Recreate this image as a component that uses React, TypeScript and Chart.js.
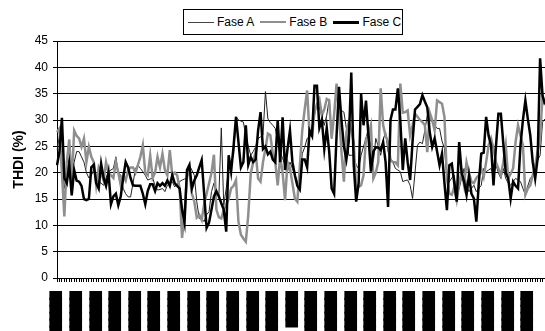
import React, { useEffect, useRef } from "react";
import { Chart, registerables } from "chart.js";

Chart.register(...registerables);

const faseA = [
  24.3, 27, 22, 17, 20, 23, 19, 22, 24, 24, 23, 22, 20, 19, 19.5, 20.5, 19, 18.3, 18, 17.6,
  19, 20.2, 20.5, 20.8, 23, 20, 19.5, 17, 16, 15.4, 15.4, 18, 20.8, 21.4, 20.8, 20.2, 19.5, 18.6, 18.8, 19,
  17.5, 16.7, 16.8, 17, 16.4, 17.6, 18, 18.3, 17.3, 17.8, 18.3, 18.6, 18.8, 19, 21.4, 20.5, 19.5, 14.5, 11.3, 11.3,
  10.7, 12, 12.6, 16.4, 18, 16, 15.5, 28.5, 13.8, 17, 20.8, 22, 23.3, 30.6, 30, 29.8, 29.6, 27.1, 25, 23.3,
  24, 24.9, 26.5, 26.8, 27.1, 35.4, 30.2, 29.5, 29, 28.4, 26, 23.9, 22.7, 21.5, 20.2, 22, 20.8, 19.5, 18.3, 17.6,
  23.6, 24.8, 26.5, 26.8, 28.8, 30.9, 33.1, 32.4, 30.7, 29, 30.9, 34, 26.5, 31, 35.3, 32.1, 31.8, 31.5, 28.4, 23.3,
  23.3, 23.3, 21.4, 20.8, 23.3, 25, 26.5, 28.4, 25, 22, 26.5, 25, 23.3, 26.2, 27.7, 24, 22.7, 22, 20.8, 20.5,
  20.2, 18.3, 18.5, 18.6, 17.6, 15.1, 20, 25.2, 25.8, 25.5, 28, 30.9, 30.2, 29.6, 29, 28.4, 28.4, 26, 24.6, 18.9,
  18.3, 19, 19.5, 15.8, 17, 19, 20.8, 17.6, 16.4, 17, 17.6, 16.4, 17, 17.6, 20.8, 20.2, 20.5, 20.8, 19.5, 21.4,
  20, 18.9, 20.8, 18.9, 18, 17.6, 18.3, 18.9, 18.6, 18.3, 17, 15.8, 17.5, 18.9, 19.5, 21.4, 22.4, 23.3, 29.6, 30.2,
];

const faseB = [
  27.7, 28.4, 20, 11.7, 22, 26.3, 18, 28, 27, 26.5, 24.9, 26.5, 22, 24.9, 23, 22, 17.6, 21, 20, 18.5,
  22, 20, 19.5, 19, 22, 20, 17.6, 19.5, 18.5, 20.5, 21, 21, 20, 21.5, 23, 25.2, 20, 19.5, 23.3, 19,
  20, 23, 21, 23.6, 20.5, 19.5, 24.3, 19.5, 20, 19.5, 17, 7.6, 12, 19.5, 20, 16, 14.5, 11.5, 12, 11,
  14, 16, 18, 20, 23.4, 13, 11.5, 11.3, 13, 13.9, 15, 17, 17.5, 18.6, 10.7, 8.2, 7.5, 6.9, 12, 19.8,
  22, 24, 18.9, 18.3, 22, 24.6, 27.4, 27.1, 23.6, 22, 17.6, 23, 20, 14.8, 22, 20.8, 18, 15.1, 14.5, 21.1,
  28, 32, 35.6, 27.1, 27, 31.5, 33, 34, 30.9, 32, 34, 33.7, 26.5, 31, 36.9, 30.9, 24, 18.3, 27.7, 29.6,
  28, 25.8, 17, 17.3, 17.6, 19.5, 26.5, 27.1, 29, 18.9, 20, 22, 36, 29, 27, 25.8, 22.4, 22, 22, 21.4,
  36.9, 31.4, 31.5, 31.8, 27.1, 29, 31.2, 30.6, 30, 29.6, 29, 23.9, 31.4, 30, 28, 33.7, 33.4, 33.1, 30.6, 18.9,
  16, 15.8, 17.3, 14.8, 18, 20.2, 17.6, 22, 20, 18.3, 18, 19, 19.5, 20.8, 19.2, 22, 25.2, 26.5, 24.6, 22,
  20.8, 19.5, 22, 25.2, 18.9, 19.8, 20.8, 25.8, 29, 27, 25.2, 15.8, 17, 17.6, 19.5, 21.4, 24, 26.5, 34.7, 32.8,
];

const faseC = [
  21.4, 24, 30.4, 19, 18, 21.5, 15.7, 20.5, 18.5, 18.3, 17.5, 15, 14.8, 15, 21, 21.5, 18, 17, 21.7, 19,
  17.5, 20, 14, 15.5, 16, 13.8, 15.5, 19, 22, 21, 19, 17.6, 17.5, 17.5, 17.5, 16, 14, 16.5, 17.8, 17.8,
  16.5, 18, 17.5, 18, 17.5, 18.5, 17.5, 19.5, 18, 17.5, 17, 13, 10.5, 20.5, 21.5, 17, 18.5, 19.5, 21, 22.4,
  16, 9.5, 10.5, 13, 15.5, 16.5, 15.5, 14.2, 13, 8.8, 23.3, 20.2, 25, 30.6, 25.8, 21, 22, 29, 21.5, 23,
  22, 22.5, 28, 31.5, 24.5, 25, 23.5, 24, 22.5, 22, 30, 22, 30.5, 20.5, 24.5, 28, 22, 19.5, 17.5, 16.8,
  22.5, 22.5, 21, 28, 27, 36.5, 36.5, 28.5, 30, 24.5, 28.5, 24, 17, 16, 27, 36.3, 30, 25, 22.5, 26,
  39, 21.5, 14.5, 18, 35, 29, 33.7, 27, 20.2, 24, 24.8, 24.8, 24.3, 25.8, 22, 13.5, 30, 32, 32, 36,
  30, 20.5, 26.5, 22, 18.6, 26, 32, 32.5, 33, 34.7, 33.5, 32.4, 27.7, 24.9, 26.5, 24, 21.4, 23.6, 18, 12.9,
  21.4, 21.7, 18, 14.5, 25.8, 20, 18.3, 15.8, 19.5, 16, 15.1, 10.7, 18, 23.6, 23.8, 30.6, 27, 25.2, 17.6, 25,
  31.2, 31.2, 25.5, 20, 18.9, 15.1, 18.3, 17.5, 17, 25.2, 30, 33.7, 30.2, 27.1, 22, 18.9, 22.7, 41.7, 34.6, 33,
];

// Category tick labels (the original labels print as solid black blocks)
const shownLabels = [
  "██████", "██████", "██████", "██████", "██████", "██████", "██████", "██████", "██████",
  "██████", "██████", "██████", "█████", "██████", "██████", "██████", "██████", "██████",
  "██████", "██████", "██████", "██████", "██████", "██████", "██████",
];
const labelStep = 8;
const categories: string[] = faseA.map((_, i) =>
  i % labelStep === 0 ? shownLabels[i / labelStep] ?? "" : ""
);

const yTicks = { min: 0, max: 45, step: 5 };
const seriesNames = ["Fase A", "Fase B", "Fase C"];

export default function App() {
  const ref = useRef<HTMLCanvasElement | null>(null);

  useEffect(() => {
    if (!ref.current) return;
    const chart = new Chart(ref.current, {
      type: "line",
      data: {
        labels: categories,
        datasets: [
          { label: seriesNames[0], data: faseA, borderColor: "#222222", borderWidth: 1, pointRadius: 0, tension: 0, order: 3 },
          { label: seriesNames[1], data: faseB, borderColor: "#8f8f8f", borderWidth: 2.5, pointRadius: 0, tension: 0, order: 2 },
          { label: seriesNames[2], data: faseC, borderColor: "#000000", borderWidth: 2.5, pointRadius: 0, tension: 0, order: 1 },
        ],
      },
      options: {
        animation: false,
        responsive: false,
        devicePixelRatio: 1,
        layout: { padding: { top: 41, left: 0, right: 0, bottom: 0 } },
        plugins: { legend: { display: false }, tooltip: { enabled: false } },
        scales: {
          x: {
            type: "category",
            offset: false,
            grid: { display: true, drawOnChartArea: false, drawTicks: true, tickLength: 4, color: "#000" },
            border: { display: true, color: "#000", width: 1 },
            ticks: {
              autoSkip: false,
              maxRotation: 90,
              minRotation: 90,
              padding: 10,
              color: "#000",
              textStrokeColor: "#000",
              textStrokeWidth: 2,
              font: { family: "DejaVu Sans", size: 9 },
            },
            afterFit: (scale: any) => {
              scale.height = 53;
              scale.paddingLeft = 0;
              scale.paddingRight = 0;
            },
          },
          y: {
            min: yTicks.min,
            max: yTicks.max,
            grid: { color: "#000", lineWidth: 1, tickLength: 4, drawTicks: true },
            border: { display: true, color: "#000", width: 1 },
            ticks: {
              stepSize: yTicks.step,
              padding: 5,
              color: "#000",
              font: { family: "Liberation Sans", size: 12 },
            },
            title: {
              display: true,
              text: "THDI (%)",
              color: "#000",
              padding: { top: 11, bottom: 0 },
              font: { family: "Liberation Sans", size: 14, weight: "bold" },
            },
            afterFit: (scale: any) => {
              scale.width = 57;
            },
          },
        },
      },
    });
    return () => chart.destroy();
  }, []);

  const item = (name: string, w: number, color: string) => (
    <span style={{ display: "flex", alignItems: "center" }}>
      <span style={{ display: "inline-block", width: 26, height: 0, borderTop: `${w}px solid ${color}`, marginRight: 3 }} />
      <span style={{ marginRight: 6 }}>{name}</span>
    </span>
  );

  return (
    <div style={{ position: "fixed", left: 0, top: 0, width: 545, height: 331, background: "#fff" }}>
      <canvas ref={ref} width={545} height={331} style={{ display: "block" }} />
      <div
        style={{
          position: "absolute",
          left: 183,
          top: 9,
          width: 220,
          height: 26,
          border: "1px solid #000",
          background: "#fff",
          display: "flex",
          alignItems: "center",
          paddingLeft: 4,
          boxSizing: "border-box",
          fontFamily: "Liberation Sans, Arial, sans-serif",
          fontSize: 12,
          color: "#000",
          whiteSpace: "nowrap",
        }}
      >
        {item(seriesNames[0], 1, "#444")}
        {item(seriesNames[1], 2, "#8f8f8f")}
        {item(seriesNames[2], 3, "#000")}
      </div>
    </div>
  );
}
